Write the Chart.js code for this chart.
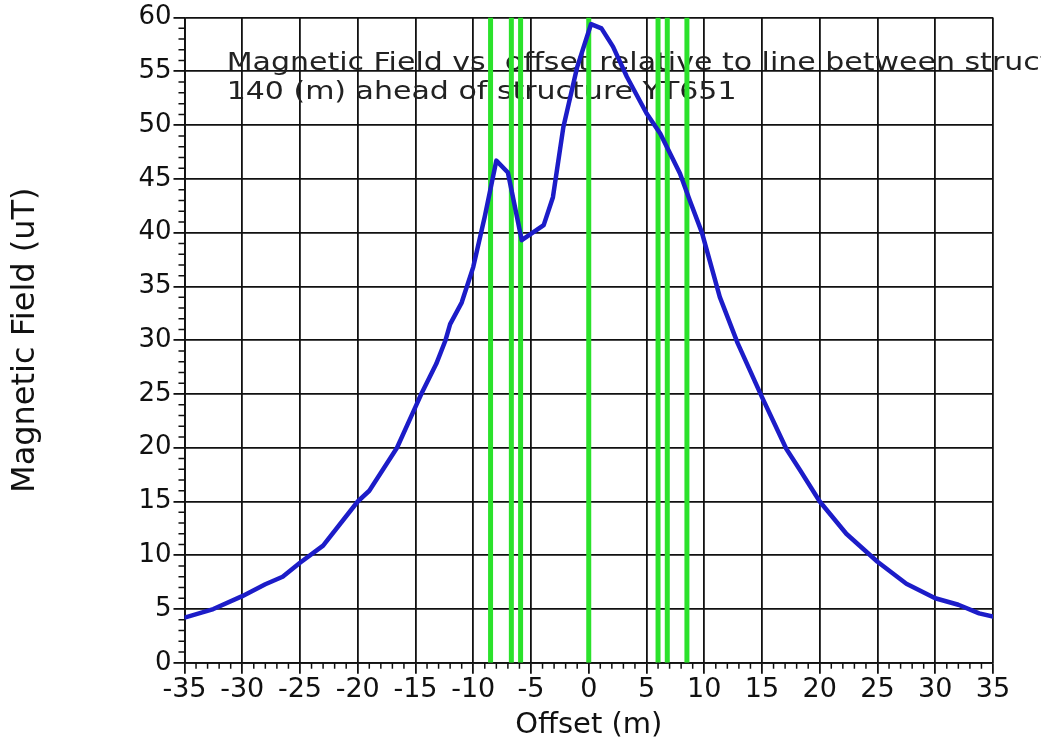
<!DOCTYPE html>
<html><head><meta charset="utf-8">
<script src="https://cdn.jsdelivr.net/npm/chart.js@4.4.1/dist/chart.umd.min.js"></script>
<style>html,body{margin:0;padding:0;background:#fff;overflow:hidden}#wrap{width:1041px;height:745px;position:relative;background:#fff}</style>
</head><body><div id="wrap"><canvas id="c" width="1041" height="745"></canvas></div>
<script>
// Offset (m) along the profile
const offsets = [-35,-32.5,-30,-28,-26.5,-25,-23,-20,-19,-16.6,-15,-14.5,-13.2,-12.4,-12,-11,-10,-9,-8,-7,-5.8,-3.9,-3.1,-2.2,-1.0,0.2,1.1,2.1,3.3,5.0,6.2,7.9,8.75,9.8,11.35,12.9,15,17.1,18.3,20,22.3,25,27.5,30,32,33.8,35];
// Magnetic field (uT)
const fieldValues = [4.2,5.0,6.2,7.3,8.0,9.3,10.9,15.0,16.0,20.0,23.8,25.0,27.8,30.0,31.5,33.5,36.8,41.5,46.7,45.6,39.3,40.7,43.3,49.8,55.4,59.4,59.0,57.3,54.5,51.1,49.2,45.5,43.0,40.0,34.0,29.7,24.7,19.9,17.9,15.0,12.0,9.4,7.35,6.0,5.4,4.6,4.3];
// Conductor positions (green vertical markers)
const conductorOffsets = [-8.5,-6.7,-5.9,0,6.0,6.8,8.5];
const xRange = [-35, 35];
const yRange = [0, 60];
const titleLines = ['Magnetic Field vs. offset relative to line between structures', '140 (m) ahead of structure YT651'];

const FONT = 'DejaVu Sans';
const INK = '#111';

const datasets = conductorOffsets.map(c => ({
  data: [{x: c, y: yRange[0]}, {x: c, y: yRange[1]}],
  borderColor: '#2be22b', borderWidth: 5, pointRadius: 0, tension: 0, order: 2
}));
datasets.push({
  data: offsets.map((x, i) => ({x, y: fieldValues[i]})),
  borderColor: '#1c1cc8', borderWidth: 4.5, pointRadius: 0, tension: 0, order: 1,
  borderJoinStyle: 'round', borderCapStyle: 'round'
});

const minorTicks = {
  id: 'minorTicks',
  afterDraw(chart) {
    const {ctx, chartArea, scales: {x, y}} = chart;
    ctx.save();
    ctx.strokeStyle = INK;
    ctx.lineWidth = 1.5;
    ctx.beginPath();
    for (let v = yRange[0]; v <= yRange[1]; v++) {
      if (v % 5 === 0) continue;
      const py = y.getPixelForValue(v);
      ctx.moveTo(chartArea.left - 6, py); ctx.lineTo(chartArea.left, py);
    }
    for (let v = xRange[0]; v <= xRange[1]; v++) {
      if (v % 5 === 0) continue;
      const px = x.getPixelForValue(v);
      ctx.moveTo(px, chartArea.bottom); ctx.lineTo(px, chartArea.bottom + 6);
    }
    ctx.stroke();
    ctx.restore();
  }
};

const plotTitle = {
  id: 'plotTitle',
  beforeDatasetsDraw(chart) {
    const {ctx, scales: {x}} = chart;
    ctx.save();
    ctx.fillStyle = '#222';
    ctx.font = '24px "' + FONT + '"';
    ctx.textBaseline = 'alphabetic';
    const x0 = x.getPixelForValue(-31.35);
    const lineY = [70, 99];
    titleLines.forEach((t, i) => {
      ctx.save();
      ctx.translate(x0, lineY[i]);
      ctx.scale(1.25, 1);
      ctx.fillText(t, 0, 0);
      ctx.restore();
    });
    ctx.restore();
  }
};

new Chart(document.getElementById('c'), {
  type: 'line',
  data: { datasets },
  options: {
    responsive: false,
    animation: false,
    devicePixelRatio: 1,
    layout: { padding: { top: 17, right: 48, left: 0, bottom: 0 } },
    plugins: { legend: { display: false }, tooltip: { enabled: false } },
    scales: {
      x: {
        type: 'linear', min: xRange[0], max: xRange[1],
        grid: { color: INK, lineWidth: 1.8, tickLength: 11, tickColor: INK },
        border: { color: INK, width: 1.8 },
        ticks: { stepSize: 5, color: INK, padding: 0, maxRotation: 0, autoSkip: false,
                 font: { family: FONT, size: 27 } },
        title: { display: true, text: 'Offset (m)', color: INK,
                 font: { family: FONT, size: 29 }, padding: { top: 2, bottom: 2 } }
      },
      y: {
        type: 'linear', min: yRange[0], max: yRange[1],
        grid: { color: INK, lineWidth: 1.8, tickLength: 11, tickColor: INK },
        border: { color: INK, width: 1.8 },
        ticks: { stepSize: 5, color: INK, padding: 2, font: { family: FONT, size: 26 } },
        title: { display: true, text: 'Magnetic Field (uT)', color: INK,
                 font: { family: FONT, size: 32 }, padding: { top: 6, bottom: 92 } }
      }
    }
  },
  plugins: [minorTicks, plotTitle]
});
</script>
</body></html>
